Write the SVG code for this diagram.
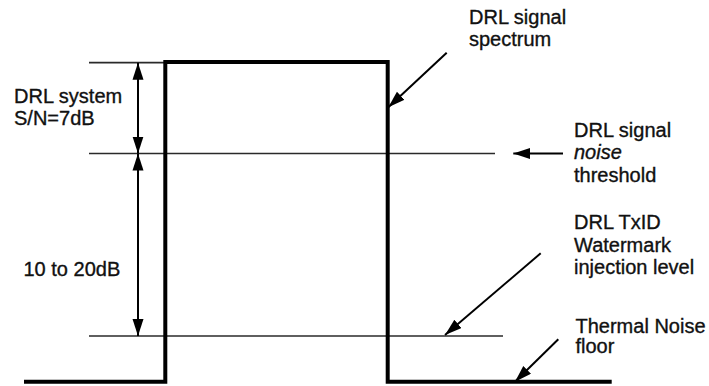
<svg xmlns="http://www.w3.org/2000/svg" width="709" height="386" viewBox="0 0 709 386">
<defs>
<style>
.t{font-family:"Liberation Sans",Arial,sans-serif;font-size:20px;fill:#111;stroke:#111;stroke-width:0.35}
.thin{stroke:#2a2a2a;stroke-width:1.7;fill:none}
.thick{stroke:#000;stroke-width:4;fill:none}
.arr{stroke:#000;stroke-width:2;fill:none}
</style>
<marker id="ah" markerUnits="userSpaceOnUse" markerWidth="18" markerHeight="12" refX="17" refY="5.5" orient="auto">
<path d="M0,0 L17,5.5 L0,11 z" fill="#000"/>
</marker>
<marker id="as" markerUnits="userSpaceOnUse" markerWidth="18" markerHeight="12" refX="0" refY="5.5" orient="auto">
<path d="M17,0 L0,5.5 L17,11 z" fill="#000"/>
</marker>
</defs>
<rect width="709" height="386" fill="#fff"/>
<g id="levels">
<line class="thin" x1="89" y1="62.7" x2="165" y2="62.7"/>
<line class="thin" x1="89" y1="153.5" x2="495" y2="153.5"/>
<line class="thin" x1="89" y1="336" x2="503" y2="336"/>
</g>
<g id="spectrum">
<path class="thick" d="M24,381.7 H165.3 V62 H387.7 V381.7 H611.7"/>
</g>
<g id="connectors">
<line class="arr" x1="138" y1="62.7" x2="138" y2="153.5" marker-start="url(#as)" marker-end="url(#ah)"/>
<line class="arr" x1="138" y1="153.5" x2="138" y2="336" marker-start="url(#as)" marker-end="url(#ah)"/>
<line class="arr" x1="446.7" y1="52.7" x2="388.3" y2="107.3" marker-end="url(#ah)"/>
<line class="arr" x1="563" y1="153.5" x2="513.3" y2="153.5" marker-end="url(#ah)"/>
<line class="arr" x1="540.7" y1="253.3" x2="445" y2="335" marker-end="url(#ah)"/>
<line class="arr" x1="558.3" y1="339.3" x2="515" y2="381.7" marker-end="url(#ah)"/>
</g>
<g id="label-sn">
<text class="t" x="14" y="103">DRL system</text>
<text class="t" x="14" y="125">S/N=7dB</text>
</g>
<g id="label-range">
<text class="t" x="23.5" y="276">10 to 20dB</text>
</g>
<g id="label-spectrum">
<text class="t" x="469" y="24">DRL signal</text>
<text class="t" x="469" y="46">spectrum</text>
</g>
<g id="label-threshold">
<text class="t" x="574" y="137">DRL signal</text>
<text class="t" x="574" y="159" font-style="italic">noise</text>
<text class="t" x="574" y="182">threshold</text>
</g>
<g id="label-watermark">
<text class="t" x="574" y="229">DRL TxID</text>
<text class="t" x="574" y="251.7">Watermark</text>
<text class="t" x="574" y="273.5">injection level</text>
</g>
<g id="label-floor">
<text class="t" x="575.5" y="332.7">Thermal Noise</text>
<text class="t" x="575.5" y="353.3">floor</text>
</g>
</svg>
